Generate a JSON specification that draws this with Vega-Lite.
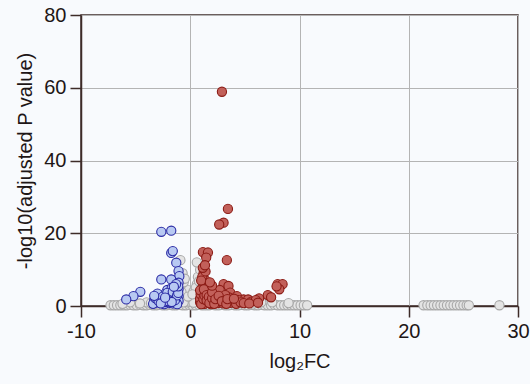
{
  "$schema": "https://vega.github.io/schema/vega-lite/v6.json",
  "width": 437,
  "height": 291,
  "autosize": "none",
  "padding": {"left": 81, "top": 15, "right": 12, "bottom": 78},
  "background": "#f8fafd",
  "view": {"stroke": "#3d2b28", "strokeWidth": 1.5, "fill": "#f8fafd"},
  "config": {
    "font": "Liberation Sans",
    "axis": {
      "labelFont": "Liberation Sans",
      "titleFont": "Liberation Sans",
      "labelFontSize": 20,
      "titleFontSize": 20,
      "titleFontWeight": "normal",
      "labelColor": "#1e1616",
      "titleColor": "#1e1616",
      "domainColor": "#3d2b28",
      "domainWidth": 1.5,
      "tickColor": "#3d2b28",
      "tickWidth": 1.5,
      "tickSize": 11,
      "labelPadding": 4,
      "gridColor": "#b4b4b4",
      "gridWidth": 1,
      "gridOpacity": 1
    }
  },
  "data": {
    "values": [
      {"x": -7.3, "y": 0.2, "g": "n"}, {"x": -7.0, "y": 0.2, "g": "n"}, {"x": -6.7, "y": 0.2, "g": "n"}, {"x": -6.4, "y": 0.2, "g": "n"}, {"x": -6.1, "y": 0.2, "g": "n"}, {"x": -5.8, "y": 0.2, "g": "n"}, {"x": -5.5, "y": 0.3, "g": "n"}, {"x": -5.2, "y": 0.2, "g": "n"}, {"x": -4.9, "y": 0.2, "g": "n"}, {"x": -4.6, "y": 0.3, "g": "n"}, {"x": -4.3, "y": 0.2, "g": "n"}, {"x": -4.0, "y": 0.2, "g": "n"}, {"x": -3.7, "y": 0.3, "g": "n"}, {"x": -3.4, "y": 0.2, "g": "n"}, {"x": -3.1, "y": 0.2, "g": "n"}, {"x": -2.8, "y": 0.3, "g": "n"}, {"x": -2.5, "y": 0.2, "g": "n"}, {"x": -2.2, "y": 0.2, "g": "n"}, {"x": -1.9, "y": 0.3, "g": "n"}, {"x": -1.6, "y": 0.2, "g": "n"}, {"x": -1.3, "y": 0.2, "g": "n"}, {"x": -1.0, "y": 0.3, "g": "n"}, {"x": -0.7, "y": 0.2, "g": "n"}, {"x": -0.4, "y": 0.2, "g": "n"}, {"x": -0.1, "y": 0.3, "g": "n"}, {"x": 0.2, "y": 0.2, "g": "n"}, {"x": 0.5, "y": 0.2, "g": "n"}, {"x": 0.8, "y": 0.3, "g": "n"}, {"x": 1.1, "y": 0.2, "g": "n"}, {"x": 1.4, "y": 0.2, "g": "n"}, {"x": 1.7, "y": 0.2, "g": "n"}, {"x": 2.0, "y": 0.3, "g": "n"}, {"x": 2.3, "y": 0.2, "g": "n"}, {"x": 2.6, "y": 0.2, "g": "n"}, {"x": 2.9, "y": 0.3, "g": "n"}, {"x": 3.2, "y": 0.2, "g": "n"}, {"x": 3.5, "y": 0.2, "g": "n"}, {"x": 3.8, "y": 0.3, "g": "n"}, {"x": 4.1, "y": 0.2, "g": "n"}, {"x": 4.4, "y": 0.2, "g": "n"}, {"x": 4.7, "y": 0.3, "g": "n"}, {"x": 5.0, "y": 0.2, "g": "n"}, {"x": 5.3, "y": 0.2, "g": "n"}, {"x": 5.6, "y": 0.3, "g": "n"}, {"x": 5.9, "y": 0.2, "g": "n"}, {"x": 6.2, "y": 0.2, "g": "n"}, {"x": 6.5, "y": 0.3, "g": "n"}, {"x": 6.8, "y": 0.2, "g": "n"}, {"x": 7.1, "y": 0.2, "g": "n"}, {"x": 7.4, "y": 0.2, "g": "n"}, {"x": 7.7, "y": 0.3, "g": "n"}, {"x": 8.0, "y": 0.2, "g": "n"}, {"x": 8.3, "y": 0.2, "g": "n"}, {"x": 8.6, "y": 0.2, "g": "n"}, {"x": 8.9, "y": 0.2, "g": "n"}, {"x": 9.2, "y": 0.2, "g": "n"}, {"x": 9.5, "y": 0.2, "g": "n"}, {"x": 9.8, "y": 0.2, "g": "n"}, {"x": 10.1, "y": 0.2, "g": "n"}, {"x": 10.4, "y": 0.2, "g": "n"}, {"x": 10.7, "y": 0.2, "g": "n"},
      {"x": -5.5, "y": 1.0, "g": "n"}, {"x": -4.0, "y": 1.0, "g": "n"}, {"x": -2.5, "y": 1.2, "g": "n"}, {"x": -0.8, "y": 2.0, "g": "n"}, {"x": -0.5, "y": 3.0, "g": "n"}, {"x": -0.3, "y": 4.5, "g": "n"}, {"x": 0.3, "y": 4.0, "g": "n"}, {"x": 0.5, "y": 2.5, "g": "n"}, {"x": -0.9, "y": 12.6, "g": "n"}, {"x": -0.7, "y": 9.0, "g": "n"}, {"x": 0.7, "y": 8.0, "g": "n"}, {"x": 0.6, "y": 6.0, "g": "n"}, {"x": 0.4, "y": 1.5, "g": "n"}, {"x": -0.2, "y": 1.0, "g": "n"}, {"x": 0.1, "y": 2.0, "g": "n"}, {"x": -0.9, "y": 5.5, "g": "n"}, {"x": 0.9, "y": 10.0, "g": "n"}, {"x": 3.0, "y": 1.0, "g": "n"}, {"x": 5.0, "y": 1.2, "g": "n"}, {"x": 6.5, "y": 1.0, "g": "n"}, {"x": -0.6, "y": 6.5, "g": "n"}, {"x": 0.6, "y": 12.0, "g": "n"}, {"x": -1.5, "y": 1.5, "g": "n"}, {"x": 1.8, "y": 1.0, "g": "n"}, {"x": 7.5, "y": 1.0, "g": "n"}, {"x": 9.0, "y": 0.8, "g": "n"},
      {"x": -0.4, "y": 1.8, "g": "n"}, {"x": 0.0, "y": 1.2, "g": "n"}, {"x": 0.3, "y": 0.9, "g": "n"}, {"x": -0.6, "y": 1.0, "g": "n"}, {"x": 0.7, "y": 3.5, "g": "n"}, {"x": -0.8, "y": 3.8, "g": "n"}, {"x": 0.5, "y": 5.0, "g": "n"}, {"x": -0.5, "y": 7.5, "g": "n"}, {"x": 0.8, "y": 6.8, "g": "n"}, {"x": -0.2, "y": 2.6, "g": "n"}, {"x": 0.2, "y": 3.2, "g": "n"}, {"x": -1.2, "y": 0.9, "g": "n"}, {"x": 1.0, "y": 0.8, "g": "n"}, {"x": 4.0, "y": 0.8, "g": "n"}, {"x": 5.8, "y": 0.7, "g": "n"}, {"x": -3.6, "y": 0.8, "g": "n"}, {"x": -4.6, "y": 0.7, "g": "n"}, {"x": -6.2, "y": 0.6, "g": "n"},
      {"x": 21.35, "y": 0.2, "g": "n"}, {"x": 21.7, "y": 0.2, "g": "n"}, {"x": 22.0, "y": 0.2, "g": "n"}, {"x": 22.3, "y": 0.2, "g": "n"}, {"x": 22.6, "y": 0.2, "g": "n"}, {"x": 22.9, "y": 0.2, "g": "n"}, {"x": 23.2, "y": 0.2, "g": "n"}, {"x": 23.5, "y": 0.2, "g": "n"}, {"x": 23.8, "y": 0.2, "g": "n"}, {"x": 24.1, "y": 0.2, "g": "n"}, {"x": 24.4, "y": 0.2, "g": "n"}, {"x": 24.7, "y": 0.2, "g": "n"}, {"x": 25.0, "y": 0.2, "g": "n"}, {"x": 25.3, "y": 0.2, "g": "n"}, {"x": 25.5, "y": 0.2, "g": "n"}, {"x": 28.3, "y": 0.2, "g": "n"},
      {"x": -2.65, "y": 20.4, "g": "d"}, {"x": -1.74, "y": 20.7, "g": "d"}, {"x": -1.74, "y": 14.6, "g": "d"}, {"x": -1.6, "y": 15.1, "g": "d"}, {"x": -1.28, "y": 11.9, "g": "d"}, {"x": -1.07, "y": 9.6, "g": "d"}, {"x": -1.0, "y": 8.2, "g": "d"}, {"x": -2.65, "y": 7.3, "g": "d"}, {"x": -1.74, "y": 7.3, "g": "d"}, {"x": -1.07, "y": 6.4, "g": "d"}, {"x": -4.57, "y": 3.9, "g": "d"}, {"x": -5.2, "y": 2.7, "g": "d"}, {"x": -5.86, "y": 1.8, "g": "d"}, {"x": -1.07, "y": 4.6, "g": "d"}, {"x": -1.07, "y": 2.7, "g": "d"}, {"x": -1.07, "y": 1.4, "g": "d"}, {"x": -2.1, "y": 4.4, "g": "d"}, {"x": -1.7, "y": 4.9, "g": "d"}, {"x": -1.4, "y": 3.6, "g": "d"}, {"x": -2.4, "y": 3.2, "g": "d"}, {"x": -2.9, "y": 2.5, "g": "d"}, {"x": -3.3, "y": 1.6, "g": "d"}, {"x": -3.1, "y": 1.0, "g": "d"}, {"x": -2.6, "y": 1.3, "g": "d"}, {"x": -2.2, "y": 2.0, "g": "d"}, {"x": -1.9, "y": 1.5, "g": "d"}, {"x": -1.5, "y": 2.2, "g": "d"}, {"x": -1.3, "y": 1.0, "g": "d"}, {"x": -2.8, "y": 0.9, "g": "d"}, {"x": -2.0, "y": 0.8, "g": "d"}, {"x": -1.6, "y": 0.7, "g": "d"}, {"x": -3.4, "y": 0.6, "g": "d"}, {"x": -2.4, "y": 0.5, "g": "d"}, {"x": -1.2, "y": 0.5, "g": "d"}, {"x": -1.9, "y": 3.0, "g": "d"}, {"x": -2.7, "y": 1.9, "g": "d"}, {"x": -3.0, "y": 3.4, "g": "d"},
      {"x": -3.2, "y": 2.2, "g": "d"}, {"x": -2.9, "y": 1.4, "g": "d"}, {"x": -2.5, "y": 2.6, "g": "d"}, {"x": -2.3, "y": 1.1, "g": "d"}, {"x": -2.1, "y": 3.6, "g": "d"}, {"x": -1.8, "y": 2.4, "g": "d"}, {"x": -1.6, "y": 3.9, "g": "d"}, {"x": -1.4, "y": 1.6, "g": "d"}, {"x": -1.2, "y": 2.9, "g": "d"}, {"x": -1.1, "y": 3.6, "g": "d"}, {"x": -1.1, "y": 5.4, "g": "d"}, {"x": -1.3, "y": 6.0, "g": "d"}, {"x": -1.5, "y": 5.3, "g": "d"}, {"x": -2.0, "y": 1.3, "g": "d"}, {"x": -2.7, "y": 0.7, "g": "d"}, {"x": -3.3, "y": 2.8, "g": "d"}, {"x": -1.7, "y": 1.1, "g": "d"}, {"x": -2.3, "y": 2.3, "g": "d"},
      {"x": 2.9, "y": 58.9, "g": "u"}, {"x": 3.45, "y": 26.7, "g": "u"}, {"x": 3.05, "y": 22.9, "g": "u"}, {"x": 2.65, "y": 22.4, "g": "u"}, {"x": 1.16, "y": 14.8, "g": "u"}, {"x": 1.62, "y": 14.7, "g": "u"}, {"x": 1.46, "y": 13.3, "g": "u"}, {"x": 3.35, "y": 12.6, "g": "u"}, {"x": 1.22, "y": 9.0, "g": "u"}, {"x": 1.37, "y": 7.1, "g": "u"}, {"x": 1.62, "y": 5.8, "g": "u"}, {"x": 3.05, "y": 6.0, "g": "u"}, {"x": 3.5, "y": 5.5, "g": "u"}, {"x": 3.66, "y": 3.7, "g": "u"}, {"x": 4.27, "y": 2.7, "g": "u"}, {"x": 4.88, "y": 1.8, "g": "u"}, {"x": 5.3, "y": 1.8, "g": "u"}, {"x": 6.3, "y": 2.1, "g": "u"}, {"x": 7.1, "y": 3.0, "g": "u"}, {"x": 7.4, "y": 2.4, "g": "u"}, {"x": 8.0, "y": 6.0, "g": "u"}, {"x": 8.45, "y": 6.0, "g": "u"}, {"x": 8.15, "y": 4.6, "g": "u"}, {"x": 7.9, "y": 5.4, "g": "u"}, {"x": 2.6, "y": 1.6, "g": "u"}, {"x": 1.1, "y": 8.0, "g": "u"}, {"x": 1.3, "y": 6.3, "g": "u"}, {"x": 1.1, "y": 5.0, "g": "u"}, {"x": 1.5, "y": 4.2, "g": "u"}, {"x": 1.2, "y": 3.5, "g": "u"}, {"x": 1.8, "y": 3.2, "g": "u"}, {"x": 1.0, "y": 2.6, "g": "u"}, {"x": 1.4, "y": 2.2, "g": "u"}, {"x": 2.1, "y": 2.8, "g": "u"}, {"x": 2.4, "y": 3.6, "g": "u"}, {"x": 1.9, "y": 1.8, "g": "u"}, {"x": 1.1, "y": 1.4, "g": "u"}, {"x": 1.6, "y": 1.0, "g": "u"}, {"x": 2.2, "y": 1.2, "g": "u"}, {"x": 2.8, "y": 2.2, "g": "u"}, {"x": 3.2, "y": 1.5, "g": "u"}, {"x": 3.5, "y": 2.4, "g": "u"}, {"x": 3.9, "y": 1.3, "g": "u"}, {"x": 4.4, "y": 1.6, "g": "u"}, {"x": 2.5, "y": 0.8, "g": "u"}, {"x": 1.3, "y": 0.6, "g": "u"}, {"x": 1.9, "y": 0.5, "g": "u"}, {"x": 3.0, "y": 0.7, "g": "u"}, {"x": 3.7, "y": 0.9, "g": "u"}, {"x": 4.2, "y": 0.6, "g": "u"}, {"x": 4.6, "y": 1.0, "g": "u"}, {"x": 5.6, "y": 1.2, "g": "u"}, {"x": 6.0, "y": 1.6, "g": "u"}, {"x": 2.7, "y": 4.4, "g": "u"}, {"x": 3.2, "y": 3.0, "g": "u"}, {"x": 1.7, "y": 4.8, "g": "u"}, {"x": 1.0, "y": 7.0, "g": "u"}, {"x": 1.4, "y": 9.5, "g": "u"},
      {"x": 0.9, "y": 1.0, "g": "u"}, {"x": 0.9, "y": 2.0, "g": "u"}, {"x": 0.95, "y": 3.2, "g": "u"}, {"x": 0.9, "y": 4.3, "g": "u"}, {"x": 1.0, "y": 0.5, "g": "u"}, {"x": 1.2, "y": 1.9, "g": "u"}, {"x": 1.3, "y": 2.9, "g": "u"}, {"x": 1.25, "y": 4.6, "g": "u"}, {"x": 1.5, "y": 3.0, "g": "u"}, {"x": 1.5, "y": 1.5, "g": "u"}, {"x": 1.7, "y": 2.5, "g": "u"}, {"x": 1.75, "y": 0.8, "g": "u"}, {"x": 2.0, "y": 2.1, "g": "u"}, {"x": 2.0, "y": 3.8, "g": "u"}, {"x": 2.2, "y": 0.6, "g": "u"}, {"x": 2.3, "y": 1.9, "g": "u"}, {"x": 2.6, "y": 2.8, "g": "u"}, {"x": 2.9, "y": 1.3, "g": "u"}, {"x": 3.3, "y": 0.6, "g": "u"}, {"x": 3.4, "y": 1.9, "g": "u"}, {"x": 4.0, "y": 2.0, "g": "u"}, {"x": 4.9, "y": 0.8, "g": "u"}, {"x": 5.4, "y": 0.7, "g": "u"}, {"x": 6.2, "y": 0.9, "g": "u"}, {"x": 2.0, "y": 5.6, "g": "u"}, {"x": 1.15, "y": 10.5, "g": "u"}, {"x": 1.35, "y": 11.2, "g": "u"}, {"x": 1.8, "y": 6.5, "g": "u"}
    ]
  },
  "mark": {"type": "point", "shape": "circle", "filled": true, "size": 85, "strokeWidth": 1.1, "opacity": 1, "fillOpacity": 1},
  "encoding": {
    "x": {
      "field": "x", "type": "quantitative",
      "scale": {"domain": [-10, 30], "nice": false, "zero": false},
      "axis": {"values": [-10, 0, 10, 20, 30], "title": "log₂FC", "titlePadding": 10, "labelFlush": false, "labelExpr": "replace(datum.label, '−', '-')"}
    },
    "y": {
      "field": "y", "type": "quantitative",
      "scale": {"domain": [0, 80], "nice": false},
      "axis": {"values": [0, 20, 40, 60, 80], "title": "-log10(adjusted P value)", "titlePadding": 8}
    },
    "fill": {
      "field": "g", "type": "nominal", "legend": null,
      "scale": {"domain": ["n", "d", "u"], "range": ["#e4e4e4", "#b8c9f2", "#c2605a"]}
    },
    "stroke": {
      "field": "g", "type": "nominal", "legend": null,
      "scale": {"domain": ["n", "d", "u"], "range": ["#a8a8a8", "#2c2ca6", "#8c1c16"]}
    }
  }
}
